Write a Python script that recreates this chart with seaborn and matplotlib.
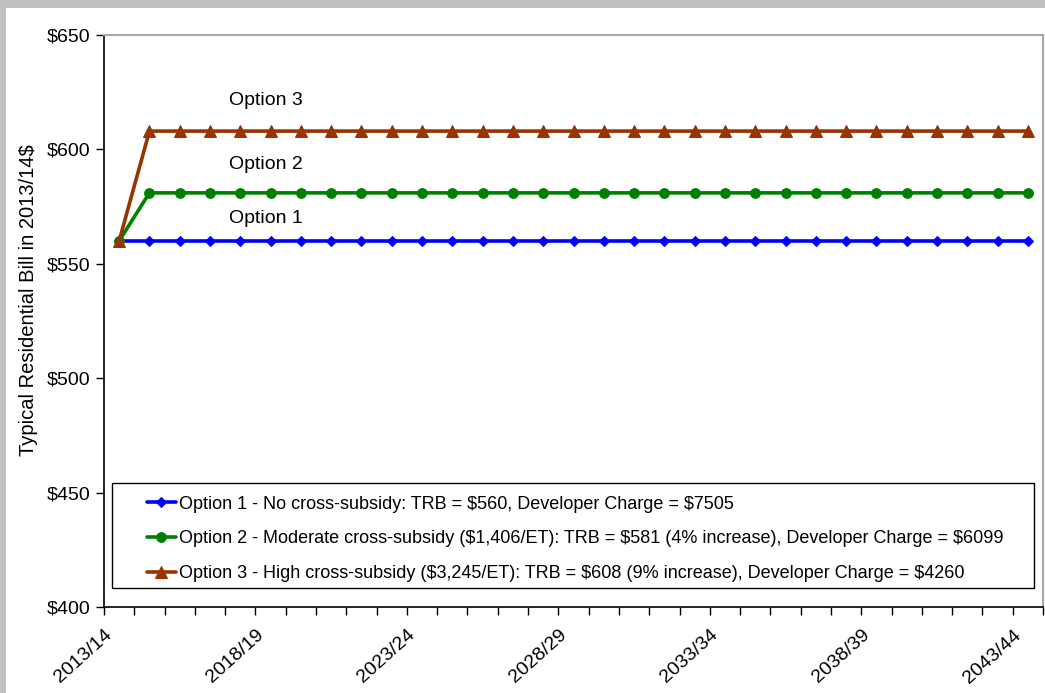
import matplotlib
matplotlib.use("Agg")
import matplotlib.pyplot as plt
from matplotlib.patches import Rectangle
from matplotlib.transforms import ScaledTranslation
from matplotlib import font_manager
import seaborn as sns
import pandas as pd

years = [f"{y}/{(y + 1) % 100:02d}" for y in range(2013, 2044)]
option1 = [560] * 31
option2 = [560] + [581] * 30
option3 = [560] + [608] * 30
series_names = [
    "Option 1 - No cross-subsidy: TRB = $560, Developer Charge = $7505",
    "Option 2 - Moderate cross-subsidy ($1,406/ET): TRB = $581 (4% increase), Developer Charge = $6099",
    "Option 3 - High cross-subsidy ($3,245/ET): TRB = $608 (9% increase), Developer Charge = $4260",
]
short_names = ["Option 1", "Option 2", "Option 3"]
yticks = [400, 450, 500, 550, 600, 650]

sns.set_theme(style="white")
plt.rcParams["font.family"] = ["Liberation Sans", "DejaVu Sans"]
plt.rcParams["text.color"] = "black"
plt.rcParams["axes.labelcolor"] = "black"
plt.rcParams["xtick.color"] = "black"
plt.rcParams["ytick.color"] = "black"
plt.rcParams["text.parse_math"] = False
installed = {f.name for f in font_manager.fontManager.ttflist}
legend_family = "Liberation Sans Narrow" if "Liberation Sans Narrow" in installed else "Liberation Sans"
legend_size = 15 if legend_family == "Liberation Sans Narrow" else 13

df = pd.DataFrame({
    "idx": list(range(len(years))) * 3,
    "bill": option1 + option2 + option3,
    "series": sum([[n] * len(years) for n in series_names], []),
})

fig = plt.figure(figsize=(10.45, 6.93), dpi=100, facecolor="white")
# grey frame along top and left edges
fig.patches.append(Rectangle((0, 1 - 8 / 693), 1, 8 / 693, transform=fig.transFigure,
                             facecolor="#c0c0c0", edgecolor="none", zorder=0))
fig.patches.append(Rectangle((0, 0), 6 / 1045, 1, transform=fig.transFigure,
                             facecolor="#c0c0c0", edgecolor="none", zorder=0))

ax = fig.add_axes([104 / 1045, 1 - 607 / 693, 939 / 1045, 572 / 693])
colors = ["#0000ff", "#008000", "#993300"]
markers = ["D", "o", "^"]
msizes = [5, 7, 8]
for name, c, m, ms in zip(series_names, colors, markers, msizes):
    sub = df[df["series"] == name]
    sns.lineplot(data=sub, x="idx", y="bill", color=c, marker=m, markersize=ms,
                 markeredgecolor=c, linewidth=2.6, ax=ax, label=name, legend=False)

ax.set_xlim(-0.5, len(years) - 0.5)
ax.set_ylim(400, 650)
ax.set_yticks(yticks)
ax.set_yticklabels([f"${v}" for v in yticks], fontsize=14)
ax.set_xticks([i - 0.5 for i in range(len(years) + 1)], minor=True)
ax.set_xticks(list(range(0, len(years), 5)))
ax.tick_params(axis="x", which="major", length=0, pad=14)
ax.tick_params(axis="x", which="minor", length=6, width=1, color="black", direction="out", bottom=True)
ax.tick_params(axis="y", length=6, width=1, color="black", direction="out", left=True, pad=4)
ax.set_xticklabels([years[i] for i in range(0, len(years), 5)], rotation=42,
                   ha="right", va="top", rotation_mode="anchor", fontsize=14)
# nudge the slanted year labels a little to the left of their ticks
shift = ScaledTranslation(-15 / 100, 0, fig.dpi_scale_trans)
for t in ax.get_xticklabels():
    t.set_transform(t.get_transform() + shift)
ax.set_xlabel("")
ax.set_ylabel("Typical Residential Bill in 2013/14$", fontsize=14.5)
ax.yaxis.set_label_coords(-66 / 939, (607 - 300) / 572)

for side in ["left", "bottom"]:
    ax.spines[side].set_color("black")
    ax.spines[side].set_linewidth(1.2)
for side in ["top", "right"]:
    ax.spines[side].set_color("#a8a8a8")
    ax.spines[side].set_linewidth(1.5)

for lbl, yv in zip(short_names, [570, 593.5, 621.5]):
    ax.text(4.85, yv, lbl, fontsize=14, ha="center", va="center")

# legend box
ax.add_patch(Rectangle(((112 - 104) / 939, (607 - 588) / 572), (1034 - 112) / 939, (588 - 483) / 572,
                       transform=ax.transAxes, facecolor="white", edgecolor="black", linewidth=1, zorder=4))
handles, labels = ax.get_legend_handles_labels()
leg = ax.legend(handles, labels, loc="upper left", bbox_to_anchor=((143 - 104) / 939, (607 - 492) / 572),
                frameon=False, prop={"family": legend_family, "size": legend_size}, handlelength=1.6,
                handletextpad=0.2, labelspacing=0.98, borderaxespad=0, borderpad=0.2)
leg.set_zorder(5)

fig.savefig("out.png", dpi=100, facecolor=fig.get_facecolor())
